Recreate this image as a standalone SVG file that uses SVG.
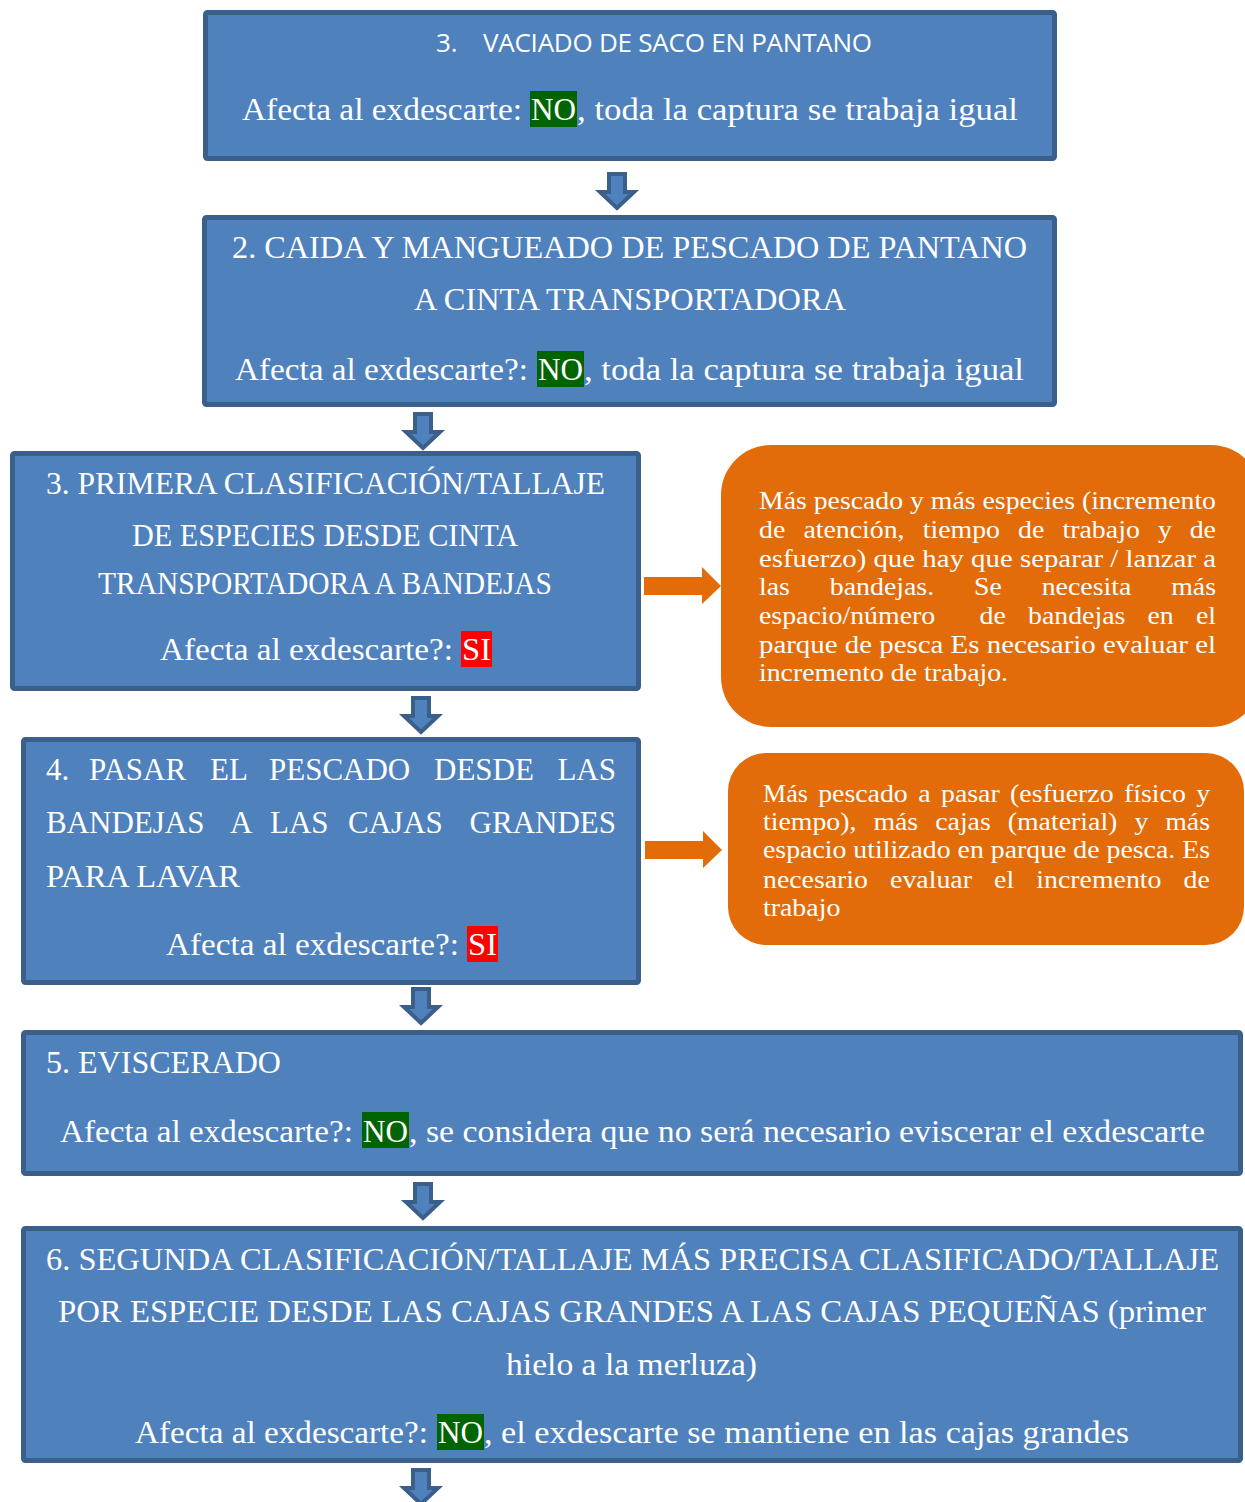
<svg xmlns="http://www.w3.org/2000/svg" width="1245" height="1502" viewBox="0 0 1245 1502">
  <style>
    .box { fill: #4F81BD; stroke: #3A5F8B; stroke-width: 5; }
    .note { fill: #E36C0A; }
    .t { font-family: "Liberation Serif", "Times New Roman", serif; font-size: 31px; fill: #FFFFFF; }
    .s { font-family: "Open Sans", "Liberation Sans", sans-serif; font-size: 26px; fill: #FFFFFF; }
    .n { font-family: "Liberation Serif", "Times New Roman", serif; font-size: 26px; fill: #FFFFFF; }
    .e { text-anchor: end; }
    .no { fill: #006400; }
    .si { fill: #FF0000; }
    .down { fill: #4F81BD; stroke: #3A5F8B; stroke-width: 4; stroke-linejoin: miter; }
    .right { fill: #E36C0A; }
  </style>
  <defs>
    <!-- block arrow pointing down, origin at centre of its top edge -->
    <polygon id="down-arrow" class="down" points="-8,2 8,2 8,20 17,20 0,36 -17,20 -8,20"/>
    <!-- block arrow pointing right, origin at its tip -->
    <polygon id="right-arrow" class="right" points="-77,-9 -19,-9 -19,-19 0,0 -19,18 -19,9 -77,9"/>
  </defs>

  <rect width="1245" height="1502" fill="#FFFFFF"/>

  <g id="connectors">
    <use href="#down-arrow" x="617" y="172"/>
    <use href="#down-arrow" x="423" y="412"/>
    <use href="#down-arrow" x="421" y="696"/>
    <use href="#down-arrow" x="421" y="987"/>
    <use href="#down-arrow" x="423" y="1182"/>
    <use href="#down-arrow" x="421" y="1468"/>
    <use href="#right-arrow" x="721" y="586"/>
    <use href="#right-arrow" x="722" y="850"/>
  </g>

  <g id="step-vaciado">
    <rect class="box" x="205.5" y="12.5" width="849" height="146" rx="2"/>
    <text class="s" x="436" y="52">3.</text>
    <text class="s" x="483" y="52" textLength="389">VACIADO DE SACO EN PANTANO</text>
    <text class="t" x="242" y="120" textLength="280" lengthAdjust="spacingAndGlyphs">Afecta al exdescarte:</text>
    <rect class="no" x="530" y="91" width="47" height="36"/>
    <text class="t" x="531" y="120" textLength="45" lengthAdjust="spacingAndGlyphs">NO</text>
    <text class="t" x="577" y="120" textLength="441" lengthAdjust="spacingAndGlyphs">, toda la captura se trabaja igual</text>
  </g>

  <g id="step-caida">
    <rect class="box" x="204.5" y="217.5" width="850" height="187" rx="2"/>
    <text class="t" x="232" y="258" textLength="795" lengthAdjust="spacingAndGlyphs">2. CAIDA Y MANGUEADO DE PESCADO DE PANTANO</text>
    <text class="t" x="414" y="310" textLength="432" lengthAdjust="spacingAndGlyphs">A CINTA TRANSPORTADORA</text>
    <text class="t" x="235" y="380" textLength="293" lengthAdjust="spacingAndGlyphs">Afecta al exdescarte?:</text>
    <rect class="no" x="537" y="351" width="47" height="36"/>
    <text class="t" x="538" y="380" textLength="45" lengthAdjust="spacingAndGlyphs">NO</text>
    <text class="t" x="584" y="380" textLength="440" lengthAdjust="spacingAndGlyphs">, toda la captura se trabaja igual</text>
  </g>

  <g id="step-primera-clasificacion">
    <rect class="box" x="12.5" y="453.5" width="626" height="235" rx="2"/>
    <text class="t" x="46" y="494" textLength="559" lengthAdjust="spacingAndGlyphs">3. PRIMERA CLASIFICACIÓN/TALLAJE</text>
    <text class="t" x="132" y="546" textLength="386" lengthAdjust="spacingAndGlyphs">DE ESPECIES DESDE CINTA</text>
    <text class="t" x="98" y="594" textLength="454" lengthAdjust="spacingAndGlyphs">TRANSPORTADORA A BANDEJAS</text>
    <text class="t" x="160" y="660" textLength="293" lengthAdjust="spacingAndGlyphs">Afecta al exdescarte?:</text>
    <rect class="si" x="461" y="631" width="31" height="36"/>
    <text class="t" x="462" y="660" textLength="29" lengthAdjust="spacingAndGlyphs">SI</text>
  </g>

  <g id="note-primera-clasificacion">
    <rect class="note" x="721" y="445" width="540" height="282" rx="50"/>
    <text class="n" x="759" y="509" textLength="457" lengthAdjust="spacingAndGlyphs">Más pescado y más especies (incremento</text>
    <text class="n" x="759" y="538" textLength="26.3" lengthAdjust="spacingAndGlyphs">de</text>
    <text class="n" x="803.4" y="538" textLength="101.2" lengthAdjust="spacingAndGlyphs">atención,</text>
    <text class="n" x="922.7" y="538" textLength="77.3" lengthAdjust="spacingAndGlyphs">tiempo</text>
    <text class="n" x="1018.1" y="538" textLength="26.3" lengthAdjust="spacingAndGlyphs">de</text>
    <text class="n" x="1062.5" y="538" textLength="77.3" lengthAdjust="spacingAndGlyphs">trabajo</text>
    <text class="n" x="1157.9" y="538" textLength="13.9" lengthAdjust="spacingAndGlyphs">y</text>
    <text class="n" x="1189.7" y="538" textLength="26.3" lengthAdjust="spacingAndGlyphs">de</text>
    <text class="n" x="759" y="567" textLength="457" lengthAdjust="spacingAndGlyphs">esfuerzo) que hay que separar / lanzar a</text>
    <text class="n" x="759" y="595" textLength="30.9" lengthAdjust="spacingAndGlyphs">las</text>
    <text class="n" x="829.8" y="595" textLength="104.3" lengthAdjust="spacingAndGlyphs">bandejas.</text>
    <text class="n" x="974" y="595" textLength="27.8" lengthAdjust="spacingAndGlyphs">Se</text>
    <text class="n" x="1041.7" y="595" textLength="89.6" lengthAdjust="spacingAndGlyphs">necesita</text>
    <text class="n" x="1171.2" y="595" textLength="44.8" lengthAdjust="spacingAndGlyphs">más</text>
    <text class="n" x="759" y="624" textLength="176.2" lengthAdjust="spacingAndGlyphs">espacio/número</text>
    <text class="n" x="979.5" y="624" textLength="26.3" lengthAdjust="spacingAndGlyphs">de</text>
    <text class="n" x="1028" y="624" textLength="97.3" lengthAdjust="spacingAndGlyphs">bandejas</text>
    <text class="n" x="1147.5" y="624" textLength="26.3" lengthAdjust="spacingAndGlyphs">en</text>
    <text class="n" x="1195.9" y="624" textLength="20.1" lengthAdjust="spacingAndGlyphs">el</text>
    <text class="n" x="759" y="653" textLength="457" lengthAdjust="spacingAndGlyphs">parque de pesca Es necesario evaluar el</text>
    <text class="n" x="759" y="681" textLength="249" lengthAdjust="spacingAndGlyphs">incremento de trabajo.</text>
  </g>

  <g id="step-pasar-pescado">
    <rect class="box" x="23.5" y="739.5" width="615" height="243" rx="2"/>
    <text class="t" y="780"><tspan x="46">4.</tspan><tspan x="89">PASAR</tspan><tspan x="210">EL</tspan><tspan x="269">PESCADO</tspan><tspan x="434">DESDE</tspan></text>
    <text class="t e" x="616" y="780">LAS</text>
    <text class="t" y="833"><tspan x="46">BANDEJAS</tspan><tspan x="230">A</tspan><tspan x="270">LAS</tspan><tspan x="348">CAJAS</tspan></text>
    <text class="t e" x="616" y="833">GRANDES</text>
    <text class="t" x="46" y="887" textLength="194" lengthAdjust="spacingAndGlyphs">PARA LAVAR</text>
    <text class="t" x="166" y="955" textLength="293" lengthAdjust="spacingAndGlyphs">Afecta al exdescarte?:</text>
    <rect class="si" x="467" y="926" width="31" height="36"/>
    <text class="t" x="468" y="955" textLength="29" lengthAdjust="spacingAndGlyphs">SI</text>
  </g>

  <g id="note-pasar-pescado">
    <rect class="note" x="728" y="753" width="516" height="192" rx="38"/>
    <text class="n" x="763" y="802" textLength="44.8" lengthAdjust="spacingAndGlyphs">Más</text>
    <text class="n" x="818.2" y="802" textLength="89.6" lengthAdjust="spacingAndGlyphs">pescado</text>
    <text class="n" x="918.2" y="802" textLength="12.4" lengthAdjust="spacingAndGlyphs">a</text>
    <text class="n" x="941" y="802" textLength="58.7" lengthAdjust="spacingAndGlyphs">pasar</text>
    <text class="n" x="1010.1" y="802" textLength="103.5" lengthAdjust="spacingAndGlyphs">(esfuerzo</text>
    <text class="n" x="1124" y="802" textLength="61.8" lengthAdjust="spacingAndGlyphs">físico</text>
    <text class="n" x="1196.2" y="802" textLength="13.9" lengthAdjust="spacingAndGlyphs">y</text>
    <text class="n" x="763" y="830" textLength="93.5" lengthAdjust="spacingAndGlyphs">tiempo),</text>
    <text class="n" x="873.4" y="830" textLength="44.8" lengthAdjust="spacingAndGlyphs">más</text>
    <text class="n" x="935.2" y="830" textLength="55.6" lengthAdjust="spacingAndGlyphs">cajas</text>
    <text class="n" x="1007.7" y="830" textLength="109.7" lengthAdjust="spacingAndGlyphs">(material)</text>
    <text class="n" x="1134.4" y="830" textLength="13.9" lengthAdjust="spacingAndGlyphs">y</text>
    <text class="n" x="1165.2" y="830" textLength="44.8" lengthAdjust="spacingAndGlyphs">más</text>
    <text class="n" x="763" y="858" textLength="447" lengthAdjust="spacingAndGlyphs">espacio utilizado en parque de pesca. Es</text>
    <text class="n" x="763" y="888" textLength="105" lengthAdjust="spacingAndGlyphs">necesario</text>
    <text class="n" x="890.1" y="888" textLength="81.9" lengthAdjust="spacingAndGlyphs">evaluar</text>
    <text class="n" x="994.1" y="888" textLength="20.1" lengthAdjust="spacingAndGlyphs">el</text>
    <text class="n" x="1036.3" y="888" textLength="125.2" lengthAdjust="spacingAndGlyphs">incremento</text>
    <text class="n" x="1183.6" y="888" textLength="26.3" lengthAdjust="spacingAndGlyphs">de</text>
    <text class="n" x="763" y="916" textLength="77.3" lengthAdjust="spacingAndGlyphs">trabajo</text>
  </g>

  <g id="step-eviscerado">
    <rect class="box" x="23.5" y="1032.5" width="1217" height="141" rx="2"/>
    <text class="t" x="46" y="1073" textLength="235" lengthAdjust="spacingAndGlyphs">5. EVISCERADO</text>
    <text class="t" x="60" y="1142" textLength="293" lengthAdjust="spacingAndGlyphs">Afecta al exdescarte?:</text>
    <rect class="no" x="362" y="1112" width="47" height="36"/>
    <text class="t" x="363" y="1142" textLength="45" lengthAdjust="spacingAndGlyphs">NO</text>
    <text class="t" x="409" y="1142" textLength="796" lengthAdjust="spacingAndGlyphs">, se considera que no será necesario eviscerar el exdescarte</text>
  </g>

  <g id="step-segunda-clasificacion">
    <rect class="box" x="23.5" y="1228.5" width="1217" height="232" rx="2"/>
    <text class="t" x="46" y="1270" textLength="1173" lengthAdjust="spacingAndGlyphs">6. SEGUNDA CLASIFICACIÓN/TALLAJE MÁS PRECISA CLASIFICADO/TALLAJE</text>
    <text class="t" x="58" y="1322" textLength="1148" lengthAdjust="spacingAndGlyphs">POR ESPECIE DESDE LAS CAJAS GRANDES A LAS CAJAS PEQUEÑAS (primer</text>
    <text class="t" x="506" y="1375" textLength="251" lengthAdjust="spacingAndGlyphs">hielo a la merluza)</text>
    <text class="t" x="135" y="1443" textLength="293" lengthAdjust="spacingAndGlyphs">Afecta al exdescarte?:</text>
    <rect class="no" x="437" y="1414" width="47" height="36"/>
    <text class="t" x="438" y="1443" textLength="45" lengthAdjust="spacingAndGlyphs">NO</text>
    <text class="t" x="484" y="1443" textLength="645" lengthAdjust="spacingAndGlyphs">, el exdescarte se mantiene en las cajas grandes</text>
  </g>
</svg>
